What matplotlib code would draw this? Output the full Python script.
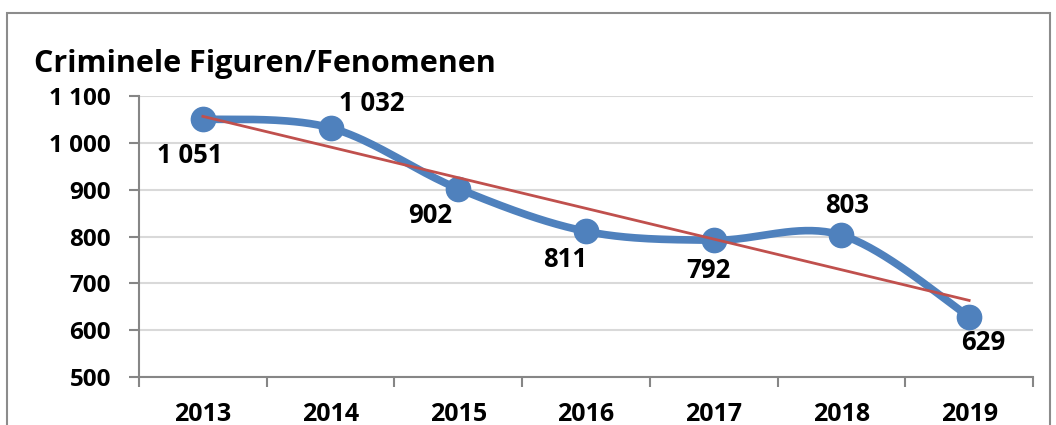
""" Criminele Figuren/Fenomenen, 2013-2019 """

import matplotlib
matplotlib.use("Agg")
import matplotlib.pyplot as plt
import numpy as np
from matplotlib.patches import Rectangle
from matplotlib.ticker import FuncFormatter, FixedLocator

# Data
years = ["2013", "2014", "2015", "2016", "2017", "2018", "2019"]
cases = [1051, 1032, 902, 811, 792, 803, 629]

# Label offsets in pixels (dx, dy) relative to each point
label_offsets = [(-13, -37), (41, 24), (-28, -27), (-21, -28), (-5, -30), (6, 30), (14, -26)]

BLUE = "#4F81BD"
RED = "#C0504D"
plt.rcParams["font.family"] = ["Open Sans", "DejaVu Sans"]
plt.rcParams["font.weight"] = "bold"


def smooth_curve(x, y, n=40):
    """ Excel-like smoothed line through the points (cubic Bezier segments) """
    x = np.asarray(x, float)
    y = np.asarray(y, float)
    px, py = [], []
    for i in range(len(x) - 1):
        x0, y0 = (x[i - 1], y[i - 1]) if i > 0 else (x[i], y[i])
        x3, y3 = (x[i + 2], y[i + 2]) if i + 2 < len(x) else (x[i + 1], y[i + 1])
        c1 = (x[i] + (x[i + 1] - x0) / 6, y[i] + (y[i + 1] - y0) / 6)
        c2 = (x[i + 1] - (x3 - x[i]) / 6, y[i + 1] - (y3 - y[i]) / 6)
        t = np.linspace(0, 1, n)
        b0, b1, b2, b3 = (1 - t) ** 3, 3 * t * (1 - t) ** 2, 3 * t ** 2 * (1 - t), t ** 3
        px.extend(b0 * x[i] + b1 * c1[0] + b2 * c2[0] + b3 * x[i + 1])
        py.extend(b0 * y[i] + b1 * c1[1] + b2 * c2[1] + b3 * y[i + 1])
    return np.array(px), np.array(py)


fig = plt.figure(figsize=(10.56, 4.25), dpi=100)
ax = fig.add_axes([139 / 1056, 48 / 425, (1033 - 139) / 1056, 281 / 425])

# Outer chart frame
fig.patches.append(Rectangle((7 / 1056, -0.1), (1050 - 7) / 1056, (425 - 13) / 425 + 0.1,
                             transform=fig.transFigure, fill=False,
                             edgecolor="#8C8C8C", linewidth=1.5))

xpos = np.arange(len(years))

# Gridlines
ax.set_ylim(500, 1100)
ax.set_xlim(-0.5, len(years) - 0.5)
ax.yaxis.set_major_locator(FixedLocator(np.arange(500, 1101, 100)))
ax.grid(axis="y", color="#D9D9D9", linewidth=1.5)
ax.set_axisbelow(True)

# Smoothed series with markers
sx, sy = smooth_curve(xpos, cases)
ax.plot(sx, sy, color=BLUE, linewidth=5.5, solid_capstyle="round", zorder=3)
ax.plot(xpos, cases, "o", color=BLUE, markersize=17.5, zorder=4)

# Linear trend line
slope, intercept = np.polyfit(xpos, cases, 1)
ax.plot(xpos[[0, -1]], intercept + slope * xpos[[0, -1]], color=RED, linewidth=2, zorder=5)

# Data labels
for x, v, (dx, dy) in zip(xpos, cases, label_offsets):
    ax.annotate(f"{v:,}".replace(",", " "), (x, v), xytext=(dx, dy),
                textcoords="offset pixels", ha="center", va="center",
                fontsize=18.5, fontweight="bold", zorder=6)

# Axes styling
for side in ["top", "right"]:
    ax.spines[side].set_visible(False)
for side in ["left", "bottom"]:
    ax.spines[side].set_color("#868686")
    ax.spines[side].set_linewidth(1.5)

ax.yaxis.set_major_formatter(FuncFormatter(lambda v, _: f"{v:,.0f}".replace(",", " ")))
ax.tick_params(axis="y", length=7, width=1.5, color="#868686", pad=13, labelsize=17.5)
ax.set_xticks(xpos)
ax.set_xticklabels(years)
ax.set_xticks(np.arange(-0.5, len(years)), minor=True)
ax.tick_params(axis="x", which="major", length=0, pad=18, labelsize=18)
ax.tick_params(axis="x", which="minor", length=7, width=1.5, color="#868686")
for lbl in ax.get_xticklabels() + ax.get_yticklabels():
    lbl.set_fontweight("bold")

fig.text(34 / 1056, 1 - 72 / 425, "Criminele Figuren/Fenomenen",
         fontsize=22, fontweight="bold", va="baseline", ha="left")

plt.savefig("out.png", dpi=100)
